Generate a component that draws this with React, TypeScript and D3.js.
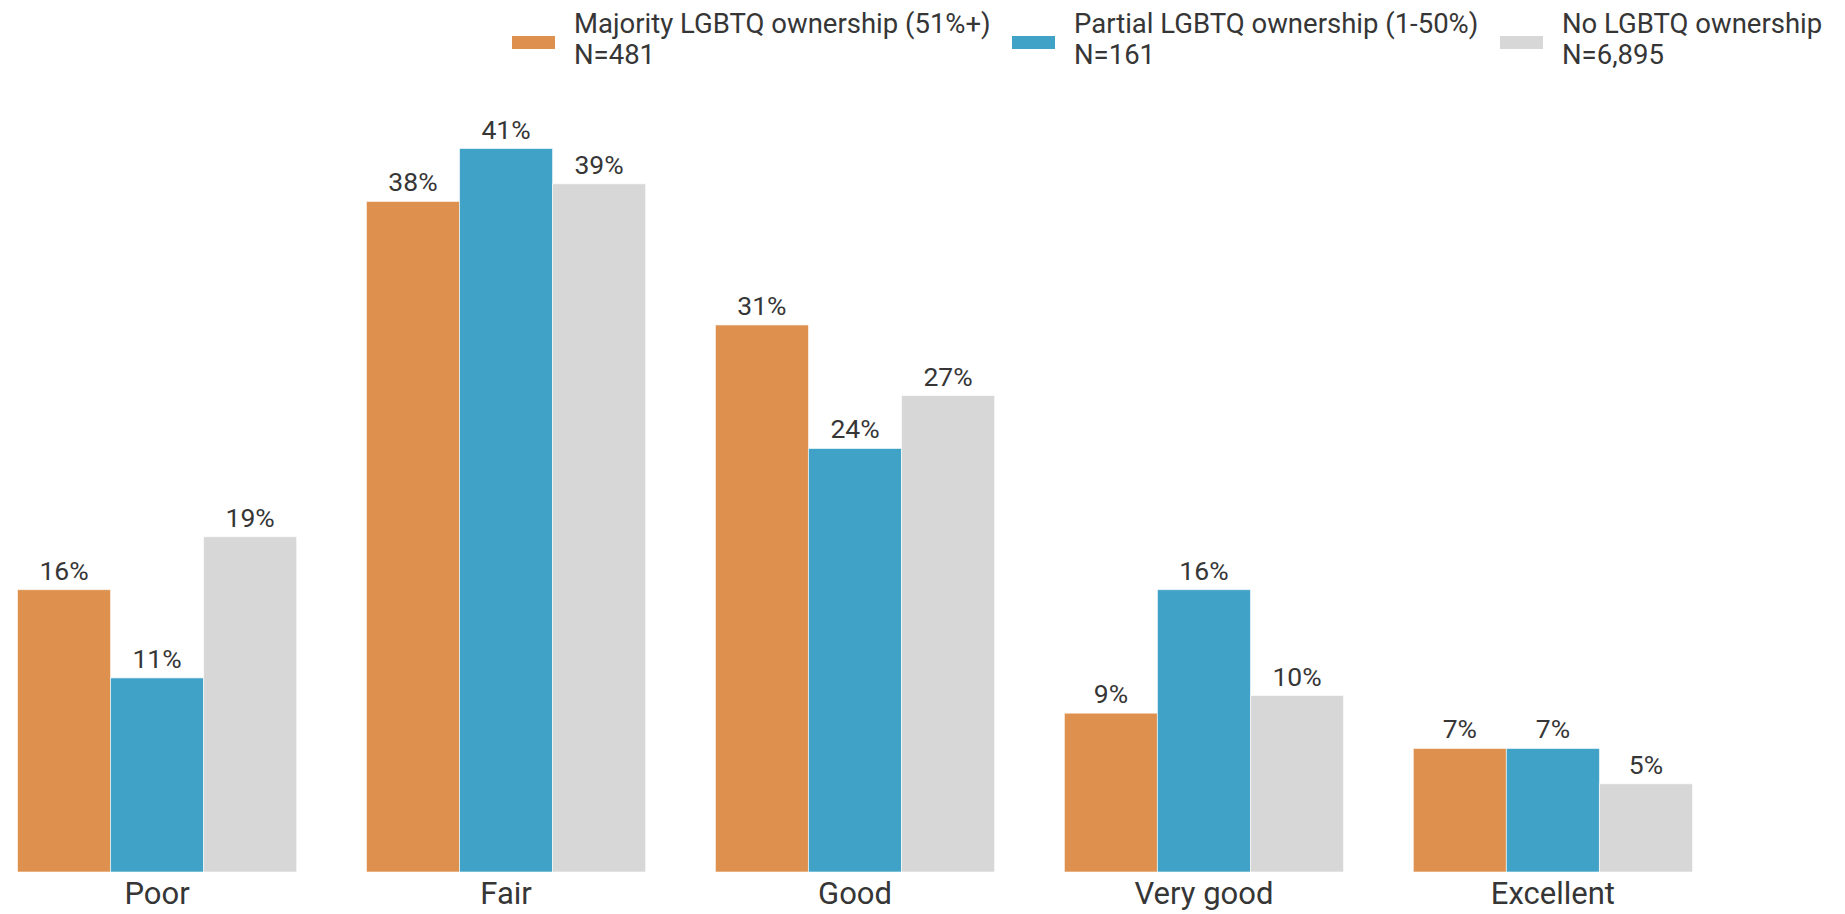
import React from "react";
import * as d3 from "d3";

const categories = ["Poor", "Fair", "Good", "Very good", "Excellent"];
const seriesNames = [
  "Majority LGBTQ ownership (51%+)",
  "Partial LGBTQ ownership (1-50%)",
  "No LGBTQ ownership",
];
const seriesN = ["N=481", "N=161", "N=6,895"];
const majority = [16, 38, 31, 9, 7];
const partial = [11, 41, 24, 16, 7];
const none = [19, 39, 27, 10, 5];
const seriesColors = ["#DE914E", "#41A2C7", "#D7D7D7"];

const W = 1845;
const H = 914;
const FONT = "Roboto, 'Noto Sans', sans-serif";
const TEXT = "#363636";

export default function App() {
  const values = [majority, partial, none];
  const x0 = d3.scaleBand<string>().domain(categories).range([17.5, 1692.5]).paddingInner(0.2).paddingOuter(0);
  const x1 = d3.scaleBand<number>().domain([0, 1, 2]).range([0, x0.bandwidth()]).padding(0);
  const y = d3.scaleLinear().domain([0, 41]).range([872, 148.5]);

  const legendX = [512, 1012, 1500];

  return (
    <svg width={W} height={H} style={{ position: "absolute", left: 0, top: 0, background: "#fff" }} fontFamily={FONT}>
      {/* legend */}
      {seriesNames.map((name, i) => (
        <g key={name} transform={`translate(${legendX[i]},0)`}>
          <rect x={0} y={36} width={43} height={13} fill={seriesColors[i]} />
          <text x={62} y={32.5} fontSize={27.5} fill={TEXT}>{name}</text>
          <text x={62} y={63.5} fontSize={27.5} fill={TEXT}>{seriesN[i]}</text>
        </g>
      ))}
      {/* bars */}
      {categories.map((c, ci) => (
        <g key={c} transform={`translate(${x0(c)},0)`}>
          {values.map((vals, si) => {
            const v = vals[ci];
            const bx = x1(si)!;
            return (
              <g key={si}>
                <rect
                  x={bx}
                  y={y(v)}
                  width={x1.bandwidth()}
                  height={y(0) - y(v)}
                  fill={seriesColors[si]}
                  stroke="#ffffff"
                  strokeOpacity={0.6}
                  strokeWidth={1}
                />
                <text
                  x={bx + x1.bandwidth() / 2}
                  y={y(v) - 10}
                  textAnchor="middle"
                  fontSize={26.5}
                  fill={TEXT}
                >
                  {v}%
                </text>
              </g>
            );
          })}
          <text x={x0.bandwidth() / 2} y={904} textAnchor="middle" fontSize={31} fill={TEXT}>
            {c}
          </text>
        </g>
      ))}
    </svg>
  );
}
